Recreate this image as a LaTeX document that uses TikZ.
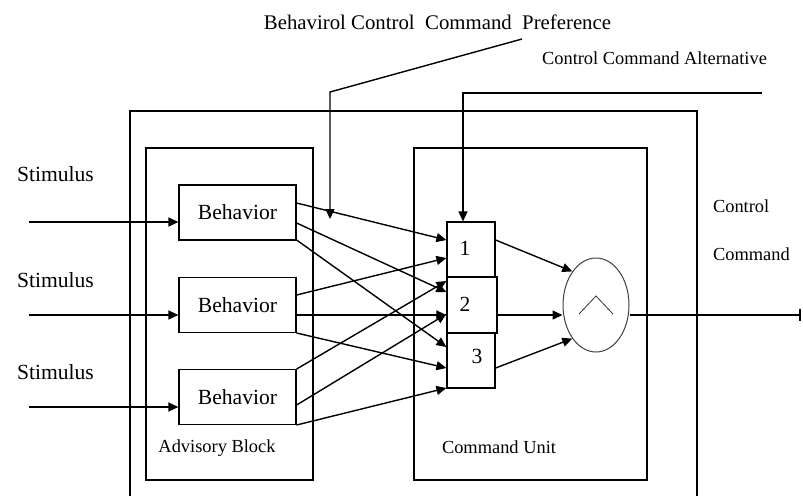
\documentclass[tikz,border=0pt]{standalone}
\usepackage{fontspec}
\setmainfont{Liberation Serif}
\usetikzlibrary{arrows.meta,shapes.geometric}
\begin{document}
\begin{tikzpicture}[x=0.5pt,y=-0.5pt,
  big/.style={font=\fontsize{10.8}{12}\selectfont},
  small/.style={font=\fontsize{9.2}{11}\selectfont},
  block/.style={draw,line width=1pt,inner sep=0pt},
  bbox/.style={draw,line width=0.6pt,minimum width=58.5pt,minimum height=27.5pt,inner sep=0pt,big},
  numbox/.style={draw,line width=0.6pt,inner sep=0pt},
  conn/.style={line width=0.7pt,-{Triangle[length=5pt,width=4.5pt]}},
  ]
\useasboundingbox (0,0) rectangle (803,495);
% outer frame
\draw[line width=1pt] (130,497) -- (130,111) -- (697,111) -- (697,497);
% blocks
\node[block, minimum width=83.5pt, minimum height=166pt] (adv) at (229.5,314) {};
\node[block, minimum width=116.5pt, minimum height=166pt] (cu) at (530.5,314) {};
% behaviors
\node[bbox] (b1) at (237.5,212.5) {Behavior};
\node[bbox] (b2) at (237.5,305) {Behavior};
\node[bbox] (b3) at (237.5,397) {Behavior};
% number boxes
\node[numbox, minimum width=24pt, minimum height=27.5pt] (n1) at (471,249.5) {};
\node[numbox, minimum width=25pt, minimum height=28pt] (n2) at (472,305) {};
\node[numbox, minimum width=24pt, minimum height=27.5pt] (n3) at (471,360.5) {};
\node[big] (t1) at (465,248) {1};
\node[big] (t2) at (465,304) {2};
\node[big] (t3) at (477,356) {3};
% ellipse
\node[ellipse, draw=black!75, line width=0.5pt, minimum width=33pt, minimum height=47pt, inner sep=0pt] (e) at (596,305) {};
\draw[line width=0.4pt, black!80] ([shift={(-17,9)}]e.center) -- ([shift={(0,-9)}]e.center) -- ([shift={(17,9)}]e.center);
% labels
\node[big, anchor=west] (s1) at (10,174) {Stimulus};
\node[big, anchor=west] (s2) at (10,280) {Stimulus};
\node[big, anchor=west] (s3) at (10,372) {Stimulus};
\node[font=\fontsize{10.4}{12}\selectfont] (pref) at (437.5,22) {Behavirol Control\ \ Command\ \ Preference};
\node[small] (alt) at (654.5,58) {Control Command Alternative};
\node[small] (advl) at (217,448) {Advisory Block};
\node[small] (cul) at (499,447) {Command Unit};
\node[small, anchor=west] (cc1) at (706,206) {Control};
\node[small, anchor=west] (cc2) at (706,254) {Command};
% stimulus arrows
\coordinate (a1) at (29,222);
\coordinate (a2) at (29,315);
\coordinate (a3) at (29,407);
\draw[conn] (a1) -- (a1 -| b1.west);
\draw[conn] (a2) -- (a2 -| b2.west);
\draw[conn] (a3) -- (a3 -| b3.west);
% behavior -> command alternatives
\draw[conn] (b1.east |- 0,203) -- (n1.west |- 0,240);
\draw[conn] (b1.east |- 0,223) -- (n2.west |- 0,292);
\draw[conn] (b1.east |- 0,240) -- (n3.west |- 0,347);
\draw[conn] (b2.east |- 0,295) -- (n1.west |- 0,258);
\draw[conn] (b2.east |- 0,315) -- (n2.west |- 0,315);
\draw[conn] (b2.east |- 0,333) -- (n3.west |- 0,368);
\draw[conn] (b3.east |- 0,369) -- (n2.west |- 0,281);
\draw[conn] (b3.east |- 0,405) -- (n2.west |- 0,314);
\draw[conn] (b3.east |- 0,425) -- (n3.west |- 0,388);
% preference line
\coordinate (pA) at (522,39);
\coordinate (pB) at (330,92);
\coordinate (pT) at (330,219);
\draw[conn] (pA) -- (pB) -- (pT);
% alternative line
\coordinate (cA) at (762,93);
\coordinate (cB) at (463,93);
\draw[conn] (cA) -- (cB) -- (cB |- n1.north);
% to ellipse
\draw[conn] (n1.east |- 0,240) -- (e.north west);
\draw[conn] (n2.east |- 0,315) -- (e.west |- 0,315);
\draw[conn] (n3.east |- 0,368) -- (e.south west);
% output
\coordinate (out) at (801,315);
\draw[line width=0.7pt,-{Bar[width=6pt,line width=1pt]}] (e.east |- 0,315) -- (out);
\end{tikzpicture}
\end{document}
